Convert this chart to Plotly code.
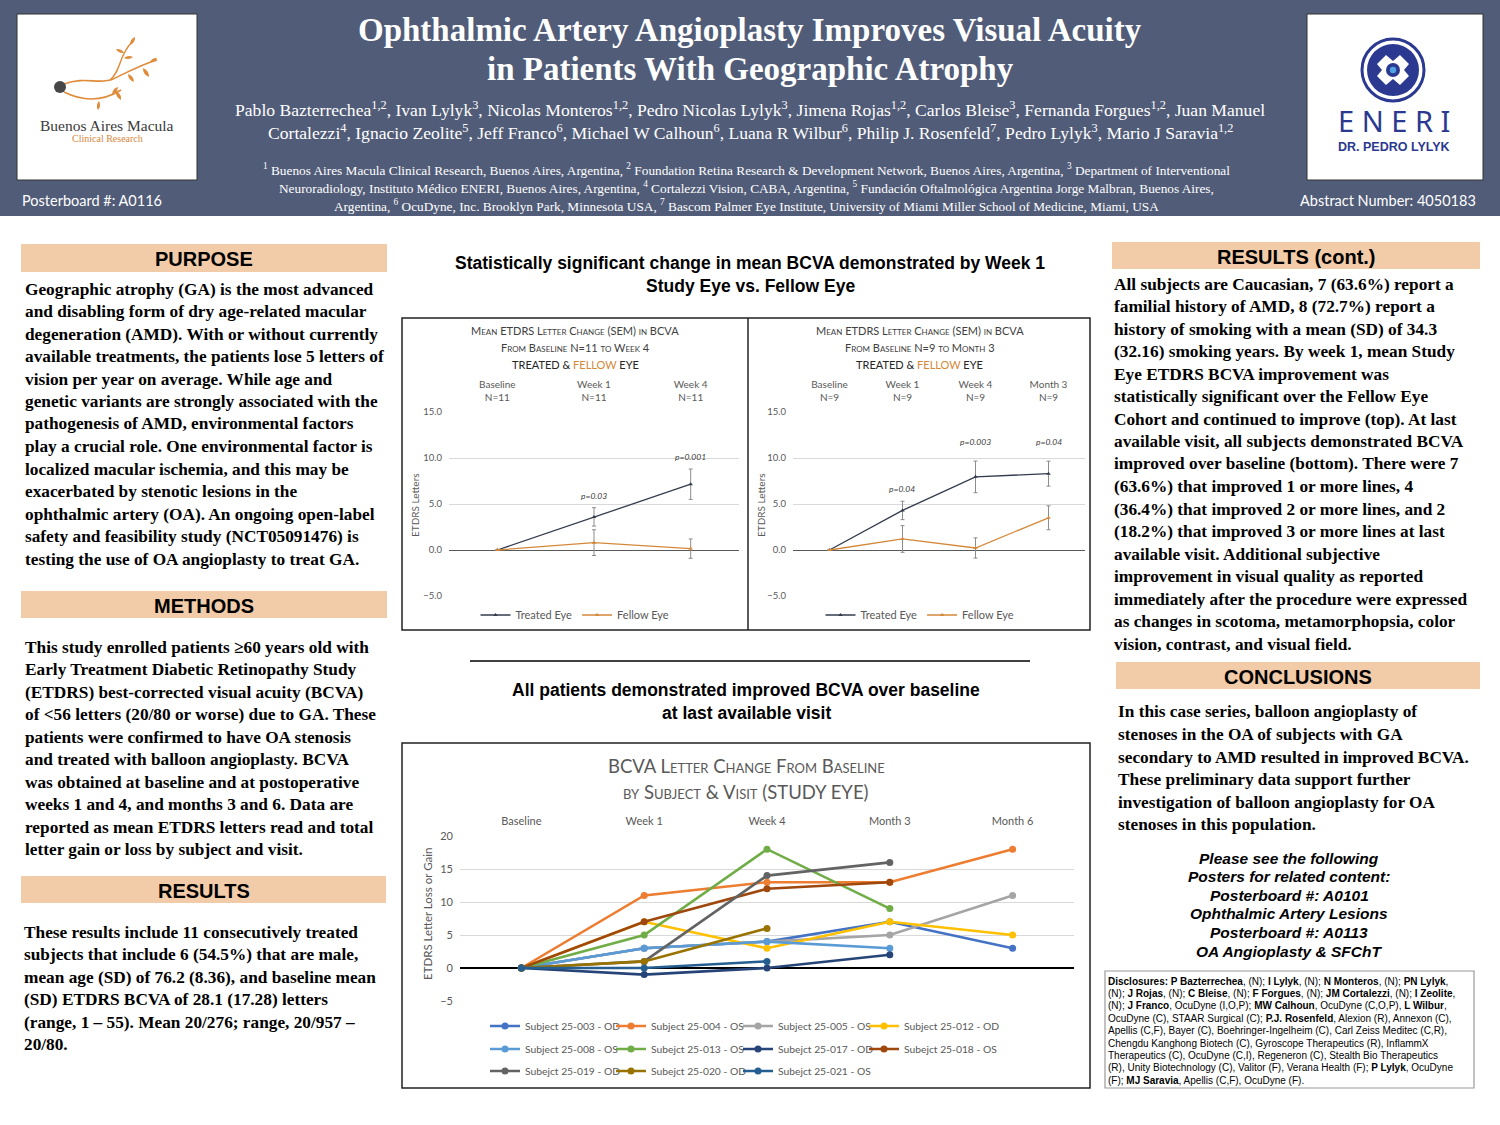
import plotly.graph_objects as go

W, H = 1500, 1125
def X(p): return p / W
def Y(p): return 1 - p / H

# ---------------- DATA ----------------
tl_categories = ["Baseline<br>N=11", "Week 1<br>N=11", "Week 4<br>N=11"]
tl_treated = [0.0, 3.6, 7.15]
tl_treated_sem = [0.0, 1.0, 1.65]
tl_fellow = [0.0, 0.8, 0.15]
tl_fellow_sem = [0.0, 1.4, 1.05]
tl_pvals = ["", "p=0.03", "p=0.001"]

tr_categories = ["Baseline<br>N=9", "Week 1<br>N=9", "Week 4<br>N=9", "Month 3<br>N=9"]
tr_treated = [0.0, 4.3, 7.95, 8.3]
tr_treated_sem = [0.0, 1.0, 1.72, 1.36]
tr_fellow = [0.0, 1.2, 0.22, 3.5]
tr_fellow_sem = [0.0, 1.45, 1.1, 1.3]
tr_pvals = ["", "p=0.04", "p=0.003", "p=0.04"]

visits = ["Baseline", "Week 1", "Week 4", "Month 3", "Month 6"]
subject_names = ["Subject 25-003 - OD", "Subject 25-004 - OS", "Subject 25-005 - OS", "Subject 25-012 - OD",
                 "Subject 25-008 - OS", "Subejct 25-013 - OS", "Subejct 25-017 - OD", "Subejct 25-018 - OS",
                 "Subejct 25-019 - OD", "Subejct 25-020 - OD", "Subejct 25-021 - OS"]
subj_003 = [0, 3, 4, 7, 3]
subj_004 = [0, 11, 13, 13, 18]
subj_005 = [0, 3, 4, 5, 11]
subj_012 = [0, 7, 3, 7, 5]
subj_008 = [0, 3, 4, 3]
subj_013 = [0, 5, 18, 9]
subj_017 = [0, -1, 0, 2]
subj_018 = [0, 7, 12, 13]
subj_019 = [0, 1, 14, 16]
subj_020 = [0, 1, 6]
subj_021 = [0, 0, 1]
subject_values = [subj_003, subj_004, subj_005, subj_012, subj_008, subj_013,
                  subj_017, subj_018, subj_019, subj_020, subj_021]
subject_colors = ["#4472C4", "#ED7D31", "#A5A5A5", "#FFC000", "#5B9BD5", "#70AD47",
                  "#264478", "#9E480E", "#636363", "#997300", "#255E91"]

# ---------------- STYLE ----------------
HEADER_BG = "#515C78"
PEACH = "#F2CBA8"
TREATED_C = "#333B4D"
FELLOW_C = "#D4893A"
GRAY_TXT = "#595959"
SERIF = "Liberation Serif"
SANS = "Liberation Sans"
CAL = "Lato"

fig = go.Figure()

def eye_trace(cats, vals, sem, name, color, xa, ya, lg):
    return go.Scatter(x=cats, y=vals, name=name, mode="lines+markers",
                      line=dict(color=color, width=1.3), marker=dict(size=4, symbol="triangle-up"),
                      error_y=dict(type="data", array=sem, color="#8C8C8C", thickness=1, width=2),
                      xaxis=xa, yaxis=ya, legend=lg)

fig.add_trace(eye_trace(tl_categories, tl_treated, tl_treated_sem, "Treated Eye", TREATED_C, "x", "y", "legend"))
fig.add_trace(eye_trace(tl_categories, tl_fellow, tl_fellow_sem, "Fellow Eye", FELLOW_C, "x", "y", "legend"))
fig.add_trace(eye_trace(tr_categories, tr_treated, tr_treated_sem, "Treated Eye", TREATED_C, "x2", "y2", "legend2"))
fig.add_trace(eye_trace(tr_categories, tr_fellow, tr_fellow_sem, "Fellow Eye", FELLOW_C, "x2", "y2", "legend2"))

# bottom chart: one legend per subject to reproduce the 3-row legend grid
legend_cols_px = [485, 611, 738, 864]
legend_rows_px = [1026, 1049, 1071]
bottom_legends = {}
for k, (name, vals, col) in enumerate(zip(subject_names, subject_values, subject_colors)):
    lg = f"legend{k + 3}"
    fig.add_trace(go.Scatter(x=visits[:len(vals)], y=vals, name=name, mode="lines+markers",
                             line=dict(color=col, width=2.6), marker=dict(size=7, color=col),
                             xaxis="x3", yaxis="y3", legend=lg))
    r, c = divmod(k, 4)
    bottom_legends[lg] = dict(orientation="h", bgcolor="rgba(0,0,0,0)", yanchor="middle", xanchor="left",
                              itemwidth=30, x=X(legend_cols_px[c]), y=Y(legend_rows_px[r]),
                              font=dict(family=CAL, size=10.3, color=GRAY_TXT))

shapes = []
annotations = []

def rect(x0, y0, x1, y1, fill=None, line=None, lw=1):
    shapes.append(dict(type="rect", xref="paper", yref="paper", x0=X(x0), x1=X(x1), y0=Y(y1), y1=Y(y0),
                       fillcolor=fill or "rgba(0,0,0,0)", line=dict(color=line or "rgba(0,0,0,0)", width=lw),
                       layer="below"))

def hline(x0, x1, y, color="black", lw=1.5):
    shapes.append(dict(type="line", xref="paper", yref="paper", x0=X(x0), x1=X(x1), y0=Y(y), y1=Y(y),
                       line=dict(color=color, width=lw)))

def vline(x, y0, y1, color="black", lw=1.5):
    shapes.append(dict(type="line", xref="paper", yref="paper", x0=X(x), x1=X(x), y0=Y(y0), y1=Y(y1),
                       line=dict(color=color, width=lw)))

def txt(text, x, y, size, color="black", family=SERIF, anchor="left", weight="normal", style="normal",
        variant="normal", angle=0):
    annotations.append(dict(text=text, x=X(x), y=Y(y), xref="paper", yref="paper", xanchor=anchor,
                            yanchor="middle", showarrow=False, textangle=angle, borderpad=0,
                            font=dict(family=family, size=size, color=color, weight=weight, style=style,
                                      variant=variant)))

def P(x, y):
    return f"{X(x):.5f},{Y(y):.5f}"

def path(d, fill=None, line=None, lw=1):
    shapes.append(dict(type="path", xref="paper", yref="paper", path=d,
                       fillcolor=fill or "rgba(0,0,0,0)", line=dict(color=line or "rgba(0,0,0,0)", width=lw)))

def circle(cx, cy, r, fill=None, line=None, lw=1):
    shapes.append(dict(type="circle", xref="paper", yref="paper", x0=X(cx - r), x1=X(cx + r),
                       y0=Y(cy + r), y1=Y(cy - r), fillcolor=fill or "rgba(0,0,0,0)",
                       line=dict(color=line or "rgba(0,0,0,0)", width=lw)))

def leaf(bx, by, tx, ty, w=0.35, color="#E08B3A"):
    mx, my = (bx + tx) / 2, (by + ty) / 2
    dx, dy = tx - bx, ty - by
    px_, py_ = -dy * w, dx * w
    d = (f"M {P(bx, by)} Q {P(mx + px_, my + py_)} {P(tx, ty)} "
         f"Q {P(mx - px_, my - py_)} {P(bx, by)} Z")
    path(d, fill=color)

# ---------------- HEADER ----------------
rect(0, 0, 1500, 216, fill=HEADER_BG)
rect(17, 14, 197, 180, fill="white", line="#333333", lw=1)
rect(1307, 14, 1483, 180, fill="white", line="#333333", lw=1)

OR = "#E08B3A"
path(f"M {P(64, 84)} C {P(85, 76)} {P(100, 85)} {P(113, 79)} C {P(126, 73)} {P(140, 65)} {P(157, 60)}", line=OR, lw=1.6)
path(f"M {P(110, 80)} C {P(122, 70)} {P(118, 56)} {P(132, 42)}", line=OR, lw=1.4)
path(f"M {P(64, 92)} C {P(80, 100)} {P(100, 103)} {P(121, 90)}", line=OR, lw=1.5)
leaf(130, 45, 135, 37)
leaf(124, 53, 116, 49)
leaf(124, 58, 133, 57)
leaf(150, 62, 157, 58)
leaf(143, 68, 149, 77)
leaf(128, 74, 134, 82)
leaf(116, 91, 121, 100)
leaf(112, 94, 118, 87)
leaf(99, 101, 98, 110)
circle(60, 87, 6, fill="#474747")
txt("Buenos Aires Macula", 107, 125, 15.5, color="#3A3A3A", family=SERIF, anchor="center")
txt("Clinical Research", 107, 138, 10, color="#D8883C", family=SERIF, anchor="center")

NAVY = "#2B3990"
circle(1393, 70, 31, fill="white", line=NAVY, lw=3)
circle(1393, 70, 26, fill=NAVY)
path(f"M {P(1377, 64)} L {P(1386, 55)} L {P(1393, 61)} L {P(1400, 55)} L {P(1409, 64)} L {P(1404, 70)} "
     f"L {P(1409, 76)} L {P(1400, 85)} L {P(1393, 79)} L {P(1386, 85)} L {P(1377, 76)} L {P(1382, 70)} Z",
     fill="white")
circle(1393, 70, 7, fill=NAVY)
circle(1393, 70, 3.2, fill="#4FA3E3")
txt("E N E R I", 1394, 120, 29, color=NAVY, family="Noto Sans", anchor="center")
txt("DR. PEDRO LYLYK", 1394, 147, 12.5, color=NAVY, family=SANS, anchor="center", weight="bold")

txt("Posterboard #: A0116", 21, 200, 14.5, color="white", family=CAL)
txt("Abstract Number: 4050183", 1477, 200, 14.5, color="white", family=CAL, anchor="right")

txt("Ophthalmic Artery Angioplasty Improves Visual Acuity", 750, 30, 33, color="white", weight="bold", anchor="center")
txt("in Patients With Geographic Atrophy", 750, 69, 33, color="white", weight="bold", anchor="center")
txt("Pablo Bazterrechea<sup>1,2</sup>, Ivan Lylyk<sup>3</sup>, Nicolas Monteros<sup>1,2</sup>, "
    "Pedro Nicolas Lylyk<sup>3</sup>, Jimena Rojas<sup>1,2</sup>, Carlos Bleise<sup>3</sup>, "
    "Fernanda Forgues<sup>1,2</sup>, Juan Manuel", 750, 109, 17.6, color="white", anchor="center")
txt("Cortalezzi<sup>4</sup>, Ignacio Zeolite<sup>5</sup>, Jeff Franco<sup>6</sup>, Michael W Calhoun<sup>6</sup>, "
    "Luana R Wilbur<sup>6</sup>, Philip J. Rosenfeld<sup>7</sup>, Pedro Lylyk<sup>3</sup>, "
    "Mario J Saravia<sup>1,2</sup>", 750, 132, 17.6, color="white", anchor="center")
txt("<sup>1</sup> Buenos Aires Macula Clinical Research, Buenos Aires, Argentina, <sup>2</sup> Foundation Retina "
    "Research &amp; Development Network, Buenos Aires, Argentina, <sup>3</sup> Department of Interventional",
    746, 170, 13.3, color="white", anchor="center")
txt("Neuroradiology, Instituto Médico ENERI, Buenos Aires, Argentina, <sup>4</sup> Cortalezzi Vision, CABA, "
    "Argentina, <sup>5</sup> Fundación Oftalmológica Argentina Jorge Malbran, Buenos Aires,",
    746, 187, 13.3, color="white", anchor="center")
txt("Argentina, <sup>6</sup> OcuDyne, Inc. Brooklyn Park, Minnesota USA, <sup>7</sup> Bascom Palmer Eye Institute, "
    "University of Miami Miller School of Medicine, Miami, USA", 746, 205, 13.3, color="white", anchor="center")

# ---------------- LEFT COLUMN ----------------
def section(title, x0, y0, x1, y1):
    rect(x0, y0, x1, y1, fill=PEACH)
    txt(title, (x0 + x1) / 2, (y0 + y1) / 2 + 1, 20, color="black", family=SANS, anchor="center", weight="bold")

def body(lines, x, y0, step=22.5, size=17.3):
    for i, ln in enumerate(lines):
        txt(ln, x, y0 + i * step, size, color="black", family=SERIF, weight="bold")

purpose_lines = [
    "Geographic atrophy (GA) is the most advanced",
    "and disabling form of dry age-related macular",
    "degeneration (AMD). With or without currently",
    "available treatments, the patients lose 5 letters of",
    "vision per year on average. While age and",
    "genetic variants are strongly associated with the",
    "pathogenesis of AMD, environmental factors",
    "play a crucial role. One environmental factor is",
    "localized macular ischemia, and this may be",
    "exacerbated by stenotic lesions in the",
    "ophthalmic artery (OA). An ongoing open-label",
    "safety and feasibility study (NCT05091476) is",
    "testing the use of OA angioplasty to treat GA.",
]
methods_lines = [
    "This study enrolled patients ≥60 years old with",
    "Early Treatment Diabetic Retinopathy Study",
    "(ETDRS) best-corrected visual acuity (BCVA)",
    "of &lt;56 letters (20/80 or worse) due to GA. These",
    "patients were confirmed to have OA stenosis",
    "and treated with balloon angioplasty. BCVA",
    "was obtained at baseline and at postoperative",
    "weeks 1 and 4, and months 3 and 6. Data are",
    "reported as mean ETDRS letters read and total",
    "letter gain or loss by subject and visit.",
]
results_lines = [
    "These results include 11 consecutively treated",
    "subjects that include 6 (54.5%) that are male,",
    "mean age (SD) of 76.2 (8.36), and baseline mean",
    "(SD) ETDRS BCVA of 28.1 (17.28) letters",
    "(range, 1 – 55). Mean 20/276; range, 20/957 –",
    "20/80.",
]
section("PURPOSE", 21, 244, 387, 272)
body(purpose_lines, 24, 289)
section("METHODS", 21, 591, 387, 618)
body(methods_lines, 24, 647)
section("RESULTS", 21, 876, 386, 903)
body(results_lines, 23, 932)

# ---------------- RIGHT COLUMN ----------------
results_cont_lines = [
    "All subjects are Caucasian, 7 (63.6%) report a",
    "familial history of AMD, 8 (72.7%) report a",
    "history of smoking with a mean (SD) of 34.3",
    "(32.16) smoking years. By week 1, mean Study",
    "Eye ETDRS BCVA improvement was",
    "statistically significant over the Fellow Eye",
    "Cohort and continued to improve (top). At last",
    "available visit, all subjects demonstrated BCVA",
    "improved over baseline (bottom). There were 7",
    "(63.6%) that improved 1 or more lines, 4",
    "(36.4%) that improved 2 or more lines, and 2",
    "(18.2%) that improved 3 or more lines at last",
    "available visit. Additional subjective",
    "improvement in visual quality as reported",
    "immediately after the procedure were expressed",
    "as changes in scotoma, metamorphopsia, color",
    "vision, contrast, and visual field.",
]
conclusion_lines = [
    "In this case series, balloon angioplasty of",
    "stenoses in the OA of subjects with GA",
    "secondary to AMD resulted in improved BCVA.",
    "These preliminary data support further",
    "investigation of balloon angioplasty for OA",
    "stenoses in this population.",
]
section("RESULTS (cont.)", 1112, 242, 1480, 269)
body(results_cont_lines, 1113, 284)
section("CONCLUSIONS", 1116, 662, 1480, 689)
body(conclusion_lines, 1117, 712)

related_lines = ["Please see the following", "Posters for related content:", "Posterboard #: A0101",
                 "Ophthalmic Artery Lesions", "Posterboard #: A0113", "OA Angioplasty &amp; SFChT"]
for i, ln in enumerate(related_lines):
    txt(ln, 1289, 858 + i * 18.6, 15.5, family=SANS, anchor="center", weight="bold", style="italic")

rect(1105, 971, 1474, 1088, fill="white", line="#9A9A9A", lw=1.2)
disclosure_lines = [
    "<b>Disclosures: P Bazterrechea</b>, (N); <b>I Lylyk</b>, (N); <b>N Monteros</b>, (N); <b>PN Lylyk</b>,",
    "(N); <b>J Rojas</b>, (N); <b>C Bleise</b>, (N); <b>F Forgues</b>, (N); <b>JM Cortalezzi</b>, (N); <b>I Zeolite</b>,",
    "(N); <b>J Franco</b>, OcuDyne (I,O,P); <b>MW Calhoun</b>, OcuDyne (C,O,P), <b>L Wilbur</b>,",
    "OcuDyne (C), STAAR Surgical (C); <b>P.J. Rosenfeld</b>, Alexion (R), Annexon (C),",
    "Apellis (C,F), Bayer (C), Boehringer-Ingelheim (C), Carl Zeiss Meditec (C,R),",
    "Chengdu Kanghong Biotech (C), Gyroscope Therapeutics (R), InflammX",
    "Therapeutics (C), OcuDyne (C,I), Regeneron (C), Stealth Bio Therapeutics",
    "(R), Unity Biotechnology (C), Valitor (F), Verana Health (F); <b>P Lylyk</b>, OcuDyne",
    "(F); <b>MJ Saravia</b>, Apellis (C,F), OcuDyne (F).",
]
for i, ln in enumerate(disclosure_lines):
    txt(ln, 1107, 981 + i * 12.4, 10, family=SANS)

# ---------------- MIDDLE COLUMN ----------------
txt("Statistically significant change in mean BCVA demonstrated by Week 1", 750, 263, 17.5, family=SANS,
    anchor="center", weight="bold")
txt("Study Eye vs. Fellow Eye", 750, 286, 17.5, family=SANS, anchor="center", weight="bold")
rect(402, 318, 1090, 630, fill="white", line="#222222", lw=1.5)
vline(748, 318, 630, color="#222222", lw=1.5)
hline(470, 1030, 661, color="black", lw=1.5)
txt("All patients demonstrated improved BCVA over baseline", 746, 690, 17.5, family=SANS, anchor="center",
    weight="bold")
txt("at last available visit", 746, 713, 17.5, family=SANS, anchor="center", weight="bold")
rect(402, 743, 1090, 1088, fill="white", line="#222222", lw=1.5)

for cx, l2 in [(575, "From Baseline N=11 to Week 4"), (920, "From Baseline N=9 to Month 3")]:
    txt("Mean ETDRS Letter Change (SEM) in BCVA", cx, 330, 11, color="#404040", family=CAL, anchor="center",
        variant="small-caps")
    txt(l2, cx, 347, 11, color="#404040", family=CAL, anchor="center", variant="small-caps")
    txt(f"TREATED &amp; <span style='color:{FELLOW_C}'>FELLOW</span> EYE", cx, 364, 11, color="#262626",
        family=CAL, anchor="center")
txt("ETDRS Letters", 415, 505, 10, color=GRAY_TXT, family=CAL, anchor="center", angle=-90)
txt("ETDRS Letters", 761, 505, 10, color=GRAY_TXT, family=CAL, anchor="center", angle=-90)

txt("BCVA Letter Change From Baseline", 746, 766, 18.5, color=GRAY_TXT, family=CAL, anchor="center",
    variant="small-caps")
txt("by Subject &amp; Visit (STUDY EYE)", 746, 792, 18.5, color=GRAY_TXT, family=CAL, anchor="center",
    variant="small-caps")
txt("ETDRS Letter Loss or Gain", 427, 914, 11.5, color=GRAY_TXT, family=CAL, anchor="center", angle=-90)

for i, p in enumerate(tl_pvals):
    if p:
        annotations.append(dict(text=p, x=i, y=tl_treated[i] + tl_treated_sem[i], xref="x", yref="y",
                                yanchor="bottom", yshift=5, showarrow=False,
                                font=dict(family=CAL, size=8.5, color="#404040", style="italic")))
top_w4m3 = max(tr_treated[2] + tr_treated_sem[2], tr_treated[3] + tr_treated_sem[3])
for i, p in enumerate(tr_pvals):
    if p:
        base = tr_treated[i] + tr_treated_sem[i] if i == 1 else top_w4m3
        annotations.append(dict(text=p, x=i, y=base, xref="x2", yref="y2", yanchor="bottom",
                                yshift=5 if i == 1 else 12, showarrow=False,
                                font=dict(family=CAL, size=8.5, color="#404040", style="italic")))

# ---------------- AXES ----------------
def cat_xaxis(dom, n, anchor, size):
    return dict(domain=dom, anchor=anchor, type="category", side="top", range=[-0.5, n - 0.5],
                showgrid=False, showline=False, zeroline=False, ticks="", ticklabelstandoff=8,
                automargin=False, tickfont=dict(family=CAL, size=size, color=GRAY_TXT), fixedrange=True)

def val_yaxis(dom, rng, anchor, fmt, size, zc, zw):
    return dict(domain=dom, anchor=anchor, range=rng, dtick=5, tickformat=fmt, showgrid=True,
                gridcolor="#D9D9D9", gridwidth=1, zeroline=True, zerolinecolor=zc, zerolinewidth=zw,
                showline=False, ticks="", ticklabelstandoff=6, automargin=False,
                tickfont=dict(family=CAL, size=size, color=GRAY_TXT), fixedrange=True)

legend_common = dict(orientation="h", bgcolor="rgba(0,0,0,0)", yanchor="middle", itemwidth=30,
                     font=dict(family=CAL, size=11, color=GRAY_TXT), tracegroupgap=0)

fig.update_layout(
    width=W, height=H, margin=dict(l=0, r=0, t=0, b=0, pad=0, autoexpand=False),
    paper_bgcolor="white", plot_bgcolor="rgba(0,0,0,0)",
    xaxis=cat_xaxis([X(449), X(739)], 3, "y", 10),
    yaxis=val_yaxis([Y(596), Y(412)], [-5, 15], "x", ".1f", 9.5, "#595959", 1.2),
    xaxis2=cat_xaxis([X(793), X(1085)], 4, "y2", 10),
    yaxis2=val_yaxis([Y(596), Y(412)], [-5, 15], "x2", ".1f", 9.5, "#595959", 1.2),
    xaxis3=cat_xaxis([X(460), X(1074)], 5, "y3", 11),
    yaxis3=val_yaxis([Y(1001), Y(836)], [-5, 20], "x3", "d", 11, "black", 1.8),
    legend=dict(**legend_common, x=X(575), y=Y(615), xanchor="center"),
    legend2=dict(**legend_common, x=X(920), y=Y(615), xanchor="center"),
    shapes=shapes, annotations=annotations,
    showlegend=True,
)
fig.update_layout(**bottom_legends)

post = ("document.body.style.margin='0px';document.body.style.overflow='hidden';"
        "document.documentElement.style.overflow='hidden';"
        "var gd=document.getElementById('{plot_id}');gd.style.position='fixed';"
        "gd.style.left='0px';gd.style.top='0px';")
fig.write_html("out.html", config={"displayModeBar": False}, post_script=post)
